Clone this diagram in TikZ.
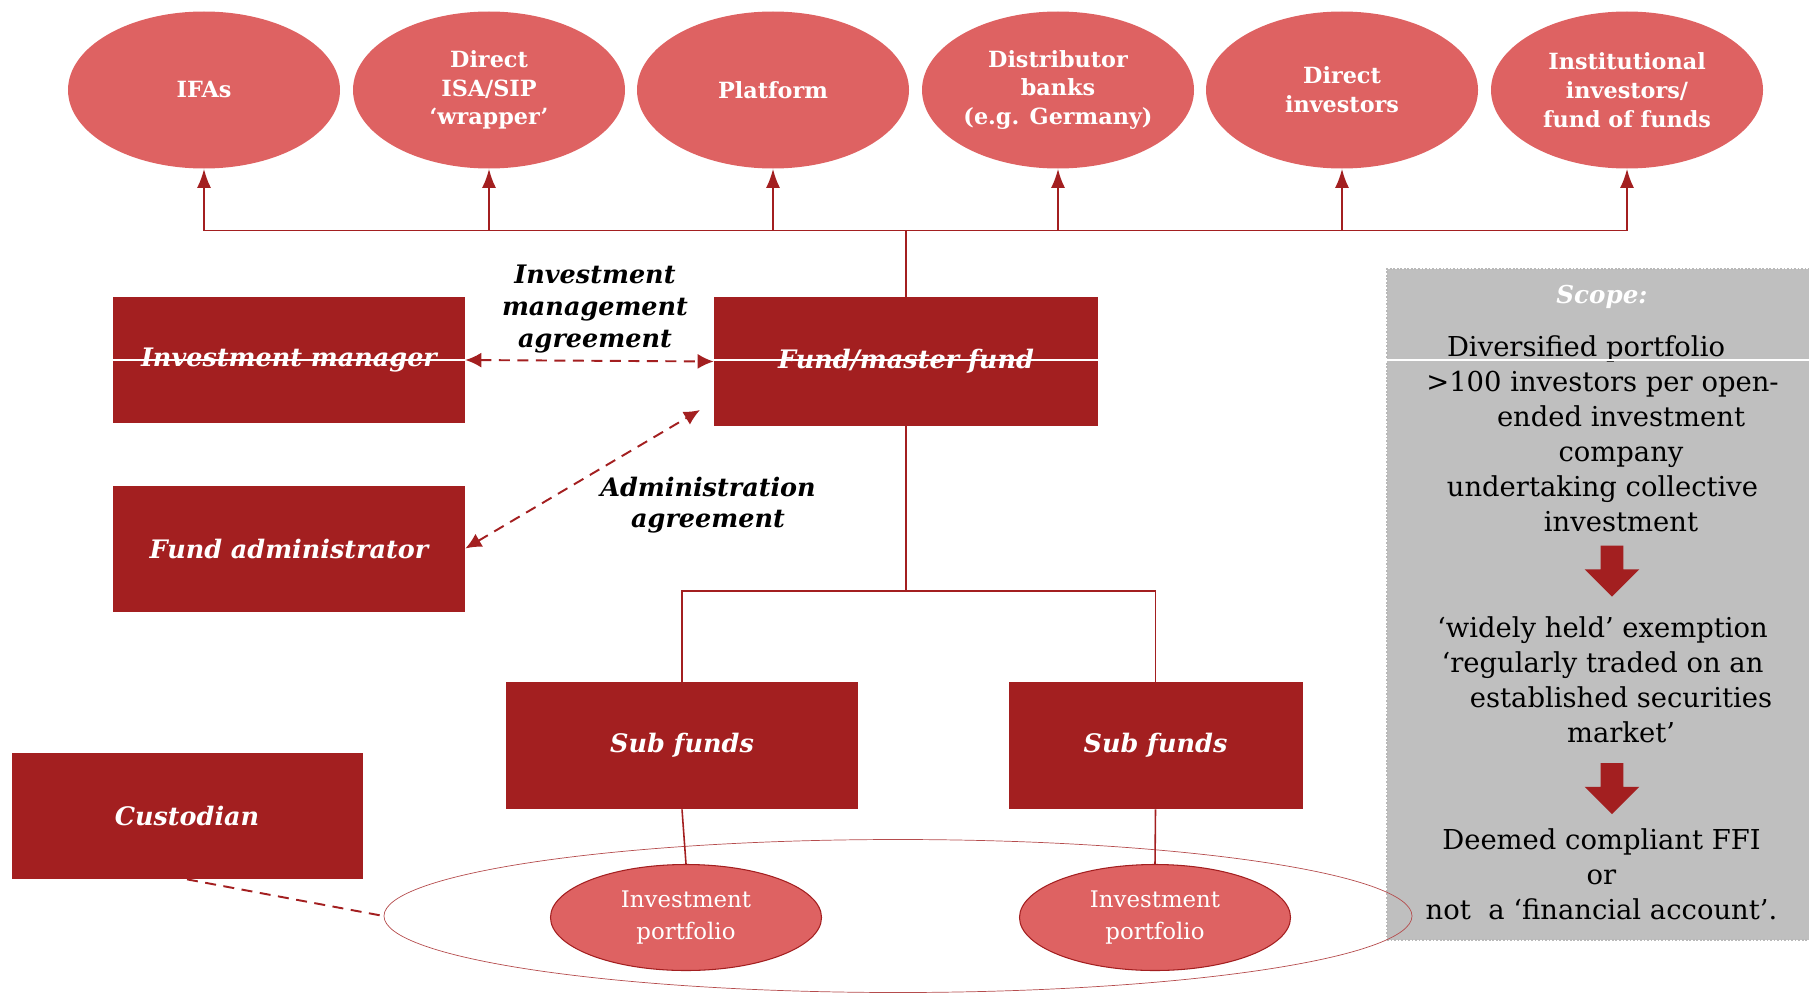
\documentclass[tikz,border=0pt]{standalone}
\usepackage{fontspec}
\setmainfont{DejaVu Serif}
\usetikzlibrary{positioning, arrows.meta, shapes.geometric, shapes.arrows, calc}
\definecolor{fmred}{RGB}{163,31,32}
\definecolor{fmrose}{RGB}{222,98,98}
\definecolor{fmgrey}{RGB}{191,191,191}
\tikzset{
    chanel/.style={ellipse, fill=fmrose, minimum width=5.44cm, minimum height=3.14cm, align=center, text=white, inner sep=0pt, font=\fontsize{12.7}{16.4}\selectfont\bfseries},
    fmbox/.style={rectangle, fill=fmred, minimum width=7.04cm, minimum height=2.52cm, align=center, text=white, font=\fontsize{14.5}{17.5}\selectfont\bfseries\itshape},
    portf/.style={ellipse, draw=fmred, line width=0.6pt, fill=fmrose, minimum width=5.42cm, minimum height=2.12cm, align=center, text=white, inner sep=0pt, font=\fontsize{13}{17.7}\selectfont},
    pool/.style={ellipse, draw=fmred!80, line width=0.4pt, minimum width=20.56cm, minimum height=3.06cm},
    scopebox/.style={rectangle, fill=fmgrey, draw=gray!55, densely dotted, line width=1pt, minimum width=8.66cm, minimum height=13.42cm},
    fmlink/.style={draw=fmred, line width=1.1pt},
    fmfeed/.style={fmlink, -{Latex[length=3.8mm, width=2.8mm]}},
    fmagree/.style={draw=fmred, line width=1.1pt, dash pattern=on 2.2mm off 1.5mm, {Latex[length=3.2mm, width=3mm]}-{Latex[length=3.2mm, width=3mm]}},
    fmlbl/.style={align=center, font=\fontsize{14.5}{18}\selectfont\bfseries\itshape},
    scopetxt/.style={align=center, font=\fontsize{15.6}{19.9}\selectfont},
    downarrow/.style={single arrow, shape border rotate=270, fill=fmred, minimum height=1.02cm, single arrow head extend=0.32cm, inner sep=0.22cm, outer sep=0pt},
}

\begin{document}
\begin{tikzpicture}
    \useasboundingbox (0,0) rectangle (36.18,-19.92);
    \node[chanel] (ifa)  at (4.08,-1.80)  {IFAs};
    \node[chanel] (isa)  at (9.78,-1.80)  {Direct\\ ISA/SIP\\ ‘wrapper’};
    \node[chanel] (plat) at (15.46,-1.80) {Platform};
    \node[chanel] (dist) at (21.16,-1.80) {Distributor\\ banks\\ (e.g. Germany)};
    \node[chanel] (dinv) at (26.84,-1.80) {Direct\\ investors};
    \node[chanel] (inst) at (32.54,-1.80) {Institutional\\ investors/\\ fund of funds};
    \coordinate (bus) at (18.12,-4.61);
    \node[fmbox] (im)    at (5.78,-7.20)  {Investment manager};
    \node[fmbox, minimum width=7.68cm, minimum height=2.58cm] (fund) at (18.12,-7.23) {Fund/master fund};
    \node[fmbox] (adm)   at (5.78,-10.97) {Fund administrator};
    \node[fmbox, minimum height=2.54cm] (sub1) at (13.64,-14.91) {Sub funds};
    \node[fmbox, minimum width=5.88cm, minimum height=2.54cm] (sub2) at (23.11,-14.91) {Sub funds};
    \node[fmbox, minimum width=7.02cm] (cust) at (3.74,-16.32) {Custodian};
    \coordinate (split) at (18.12,-11.82);
    \node[scopebox] (scope) at (32.07,-12.09) {};
    \node[fmlbl, text=white, font=\fontsize{14}{17}\selectfont\bfseries\itshape] (scopehd) at (32.04,-5.94) {Scope:};
    \node[scopetxt] (crit) at (32.05,-8.68) {Diversified portfolio\hspace*{0.66cm}\\ >100 investors per open-\\ \hspace*{0.74cm}ended investment\\ \hspace*{0.74cm}company\\ undertaking collective\\ \hspace*{0.74cm}investment};
    \node[downarrow] (arr1) at (32.24,-11.31) {};
    \node[scopetxt] (exempt) at (32.05,-13.60) {‘widely held’ exemption\\ ‘regularly traded on an\\ \hspace*{0.74cm}established securities\\ \hspace*{0.74cm}market’};
    \node[downarrow] (arr2) at (32.24,-15.66) {};
    \node[scopetxt] (result) at (32.03,-17.49) {Deemed compliant FFI\\ or\\ not~ a ‘financial account’.};
    \node[pool] (pool) at (17.96,-18.32) {};
    \node[portf] (port1) at (13.72,-18.35) {Investment\\ portfolio};
    \node[portf] (port2) at (23.10,-18.35) {Investment\\ portfolio};
    \draw[white, line width=0.6pt] (im.west) -- (im.west -| scope.east);
    \foreach \c in {ifa,isa,plat,dist,dinv,inst}
        \draw[fmfeed] (fund.north) |- (bus -| \c.south) -- (\c.south);
    \draw[fmlink] (fund.south) -- (split);
    \draw[fmlink, line width=0.9pt] (sub1.north) |- (split) -| (sub2.north);
    \draw[fmlink, line width=0.9pt] (sub1.south) -- (port1.north);
    \draw[fmlink, line width=0.9pt] (sub2.south) -- (port2.north);
    \draw[fmagree] (im.east) -- (fund.west);
    \draw[fmagree] (adm.east) -- (14.0,-8.20);
    \draw[fmred, line width=1.1pt, dash pattern=on 2.2mm off 1.5mm] (cust.south) -- (pool.west);
    \node[fmlbl] (imalbl)  at (11.90,-6.18) {Investment\\ management\\ agreement};
    \node[fmlbl] (admlbl)  at (14.16,-10.10) {Administration\\ agreement};
\end{tikzpicture}
\end{document}
